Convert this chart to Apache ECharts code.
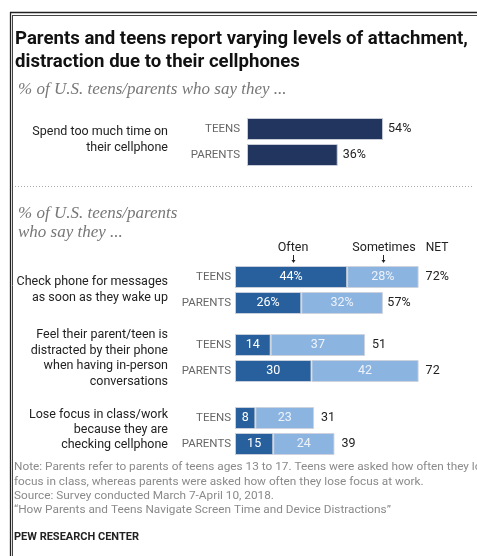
<!DOCTYPE html>
<html>
<head>
<meta charset="utf-8">
<script src="https://cdn.jsdelivr.net/npm/echarts@6/dist/echarts.min.js"></script>
<style>
  html, body { margin: 0; padding: 0; background: #fff; }
  #chart { width: 477px; height: 556px; }
</style>
</head>
<body>
<div id="chart"></div>
<script>
// who answered
var groups = ['TEENS', 'PARENTS'];

// top panel: spend too much time on their cellphone
var tooMuchTime = [54, 36];

// bottom panel: often / sometimes / NET
var checkOften = [44, 26];
var checkSometimes = [28, 32];
var checkNet = [72, 57];

var distractOften = [14, 30];
var distractSometimes = [37, 42];
var distractNet = [51, 72];

var focusOften = [8, 15];
var focusSometimes = [23, 24];
var focusNet = [31, 39];

var FONT = 'Roboto, "Liberation Sans", sans-serif';
var SERIF = '"Liberation Serif", "DejaVu Serif", serif';

var navy = '#22355e';
var oftenColor = '#27609c';
var sometimesColor = '#8cb4e0';
var edge = 'rgba(205,210,220,0.9)';

var dom = document.getElementById('chart');
var myChart = echarts.init(dom, null, { renderer: 'canvas' });

function yAxisFor(idx, margin) {
  return {
    type: 'category',
    gridIndex: idx,
    data: groups,
    inverse: true,
    axisLine: { show: false },
    axisTick: { show: false },
    axisLabel: { color: '#666', fontSize: 11.5, fontFamily: FONT, margin: margin }
  };
}

function xAxisFor(idx) {
  return {
    type: 'value',
    gridIndex: idx,
    min: 0,
    max: 90,
    show: false,
    splitLine: { show: false }
  };
}

function stackSeries(idx, often, sometimes, net, pct) {
  var fmt = function (p) { return p.value + (pct ? '%' : ''); };
  return [
    {
      type: 'bar',
      xAxisIndex: idx,
      yAxisIndex: idx,
      stack: 'g' + idx,
      barWidth: 22,
      data: often,
      itemStyle: { color: oftenColor, borderColor: edge, borderWidth: 1 },
      label: { show: true, position: 'inside', color: '#ffffff', fontSize: 12.5, fontFamily: FONT, formatter: fmt }
    },
    {
      type: 'bar',
      xAxisIndex: idx,
      yAxisIndex: idx,
      stack: 'g' + idx,
      barWidth: 22,
      data: sometimes,
      itemStyle: { color: sometimesColor, borderColor: edge, borderWidth: 1 },
      label: { show: true, position: 'inside', color: '#eef3fa', fontSize: 12.5, fontFamily: FONT, formatter: fmt }
    },
    {
      type: 'bar',
      xAxisIndex: idx,
      yAxisIndex: idx,
      barWidth: 22,
      barGap: '-100%',
      data: net,
      silent: true,
      itemStyle: { color: 'rgba(0,0,0,0)' },
      label: { show: true, position: 'right', distance: 7, color: '#222', fontSize: 12.5, fontFamily: FONT, formatter: fmt }
    }
  ];
}

function txt(x, y, text, font, fill, align, lineHeight) {
  return {
    type: 'text',
    silent: true,
    style: {
      x: x, y: y, text: text, font: font, fill: fill,
      textAlign: align || 'left', align: align || 'left',
      textVerticalAlign: 'middle', verticalAlign: 'middle',
      lineHeight: lineHeight || 16
    }
  };
}

function arrow(x, y1, y2) {
  return [
    { type: 'line', silent: true, shape: { x1: x, y1: y1, x2: x, y2: y2 - 2 }, style: { stroke: '#222', lineWidth: 1 } },
    { type: 'polygon', silent: true, shape: { points: [[x - 2, y2 - 3], [x + 2, y2 - 3], [x, y2]] }, style: { fill: '#222' } }
  ];
}

var option = {
  backgroundColor: '#fff',
  animation: false,
  grid: [
    { left: 247, top: 116, width: 226.8, height: 52 },
    { left: 235, top: 264, width: 229.5, height: 52 },
    { left: 235, top: 332, width: 229.5, height: 52 },
    { left: 235, top: 405, width: 229.5, height: 52 }
  ],
  xAxis: [xAxisFor(0), xAxisFor(1), xAxisFor(2), xAxisFor(3)],
  yAxis: [yAxisFor(0, 7), yAxisFor(1, 4), yAxisFor(2, 4), yAxisFor(3, 4)],
  series: [
    {
      type: 'bar',
      xAxisIndex: 0,
      yAxisIndex: 0,
      barWidth: 22,
      data: tooMuchTime,
      itemStyle: { color: navy, borderColor: edge, borderWidth: 1 },
      label: {
        show: true, position: 'right', distance: 5, color: '#222', fontSize: 12.5, fontFamily: FONT,
        formatter: function (p) { return p.value + '%'; }
      }
    }
  ]
    .concat(stackSeries(1, checkOften, checkSometimes, checkNet, true))
    .concat(stackSeries(2, distractOften, distractSometimes, distractNet, false))
    .concat(stackSeries(3, focusOften, focusSometimes, focusNet, false)),
  graphic: {
    elements: [
      // frame
      { type: 'line', silent: true, shape: { x1: 10, y1: 12.5, x2: 477, y2: 12.5 }, style: { stroke: '#222', lineWidth: 1.3 } },
      { type: 'line', silent: true, shape: { x1: 12.5, y1: 15.5, x2: 477, y2: 15.5 }, style: { stroke: '#444', lineWidth: 1 } },
      { type: 'line', silent: true, shape: { x1: 10.5, y1: 12, x2: 10.5, y2: 556 }, style: { stroke: '#222', lineWidth: 1.3 } },
      { type: 'line', silent: true, shape: { x1: 12.5, y1: 15, x2: 12.5, y2: 556 }, style: { stroke: '#444', lineWidth: 1 } },

      // title and subtitles
      txt(15, 39, 'Parents and teens report varying levels of attachment,', 'bold 18.6px ' + FONT, '#111'),
      txt(15, 62, 'distraction due to their cellphones', 'bold 18.6px ' + FONT, '#111'),
      txt(18, 90, '% of U.S. teens/parents who say they ...', 'italic 17px ' + SERIF, '#777'),
      txt(18, 214, '% of U.S. teens/parents', 'italic 17px ' + SERIF, '#777'),
      txt(18, 233, 'who say they ...', 'italic 17px ' + SERIF, '#777'),

      // dotted separator
      { type: 'line', silent: true, shape: { x1: 15, y1: 186.5, x2: 472, y2: 186.5 }, style: { stroke: '#aaa', lineWidth: 1, lineDash: [1, 2] } },

      // row labels
      txt(168, 140, 'Spend too much time on\ntheir cellphone', '12.5px ' + FONT, '#222', 'right', 16),
      txt(168, 290, 'Check phone for messages\nas soon as they wake up', '12.5px ' + FONT, '#222', 'right', 16),
      txt(168, 358.5, 'Feel their parent/teen is\ndistracted by their phone\nwhen having in-person\nconversations', '12.5px ' + FONT, '#222', 'right', 15.7),
      txt(168, 430, 'Lose focus in class/work\nbecause they are\nchecking cellphone', '12.5px ' + FONT, '#222', 'right', 15),

      // column headers
      txt(293, 248, 'Often', '12.5px ' + FONT, '#222', 'center'),
      txt(384, 248, 'Sometimes', '12.5px ' + FONT, '#222', 'center'),
      txt(437, 248, 'NET', '12px ' + FONT, '#222', 'center')
    ]
      .concat(arrow(293.5, 255, 263))
      .concat(arrow(383.5, 255, 263))
      .concat([
        // notes
        txt(14, 467, 'Note: Parents refer to parents of teens ages 13 to 17. Teens were asked how often they lose', '11.8px ' + FONT, '#8a8a8a'),
        txt(14, 482, 'focus in class, whereas parents were asked how often they lose focus at work.', '11.8px ' + FONT, '#8a8a8a'),
        txt(14, 496, 'Source: Survey conducted March 7-April 10, 2018.', '11.8px ' + FONT, '#8a8a8a'),
        txt(14, 510, '\u201cHow Parents and Teens Navigate Screen Time and Device Distractions\u201d', '11.8px ' + FONT, '#8a8a8a'),
        txt(14, 537, 'PEW RESEARCH CENTER', 'bold 11px ' + FONT, '#222')
      ])
  }
};

myChart.setOption(option);

window.addEventListener('resize', function () {
  myChart.resize();
});
</script>
</body>
</html>
